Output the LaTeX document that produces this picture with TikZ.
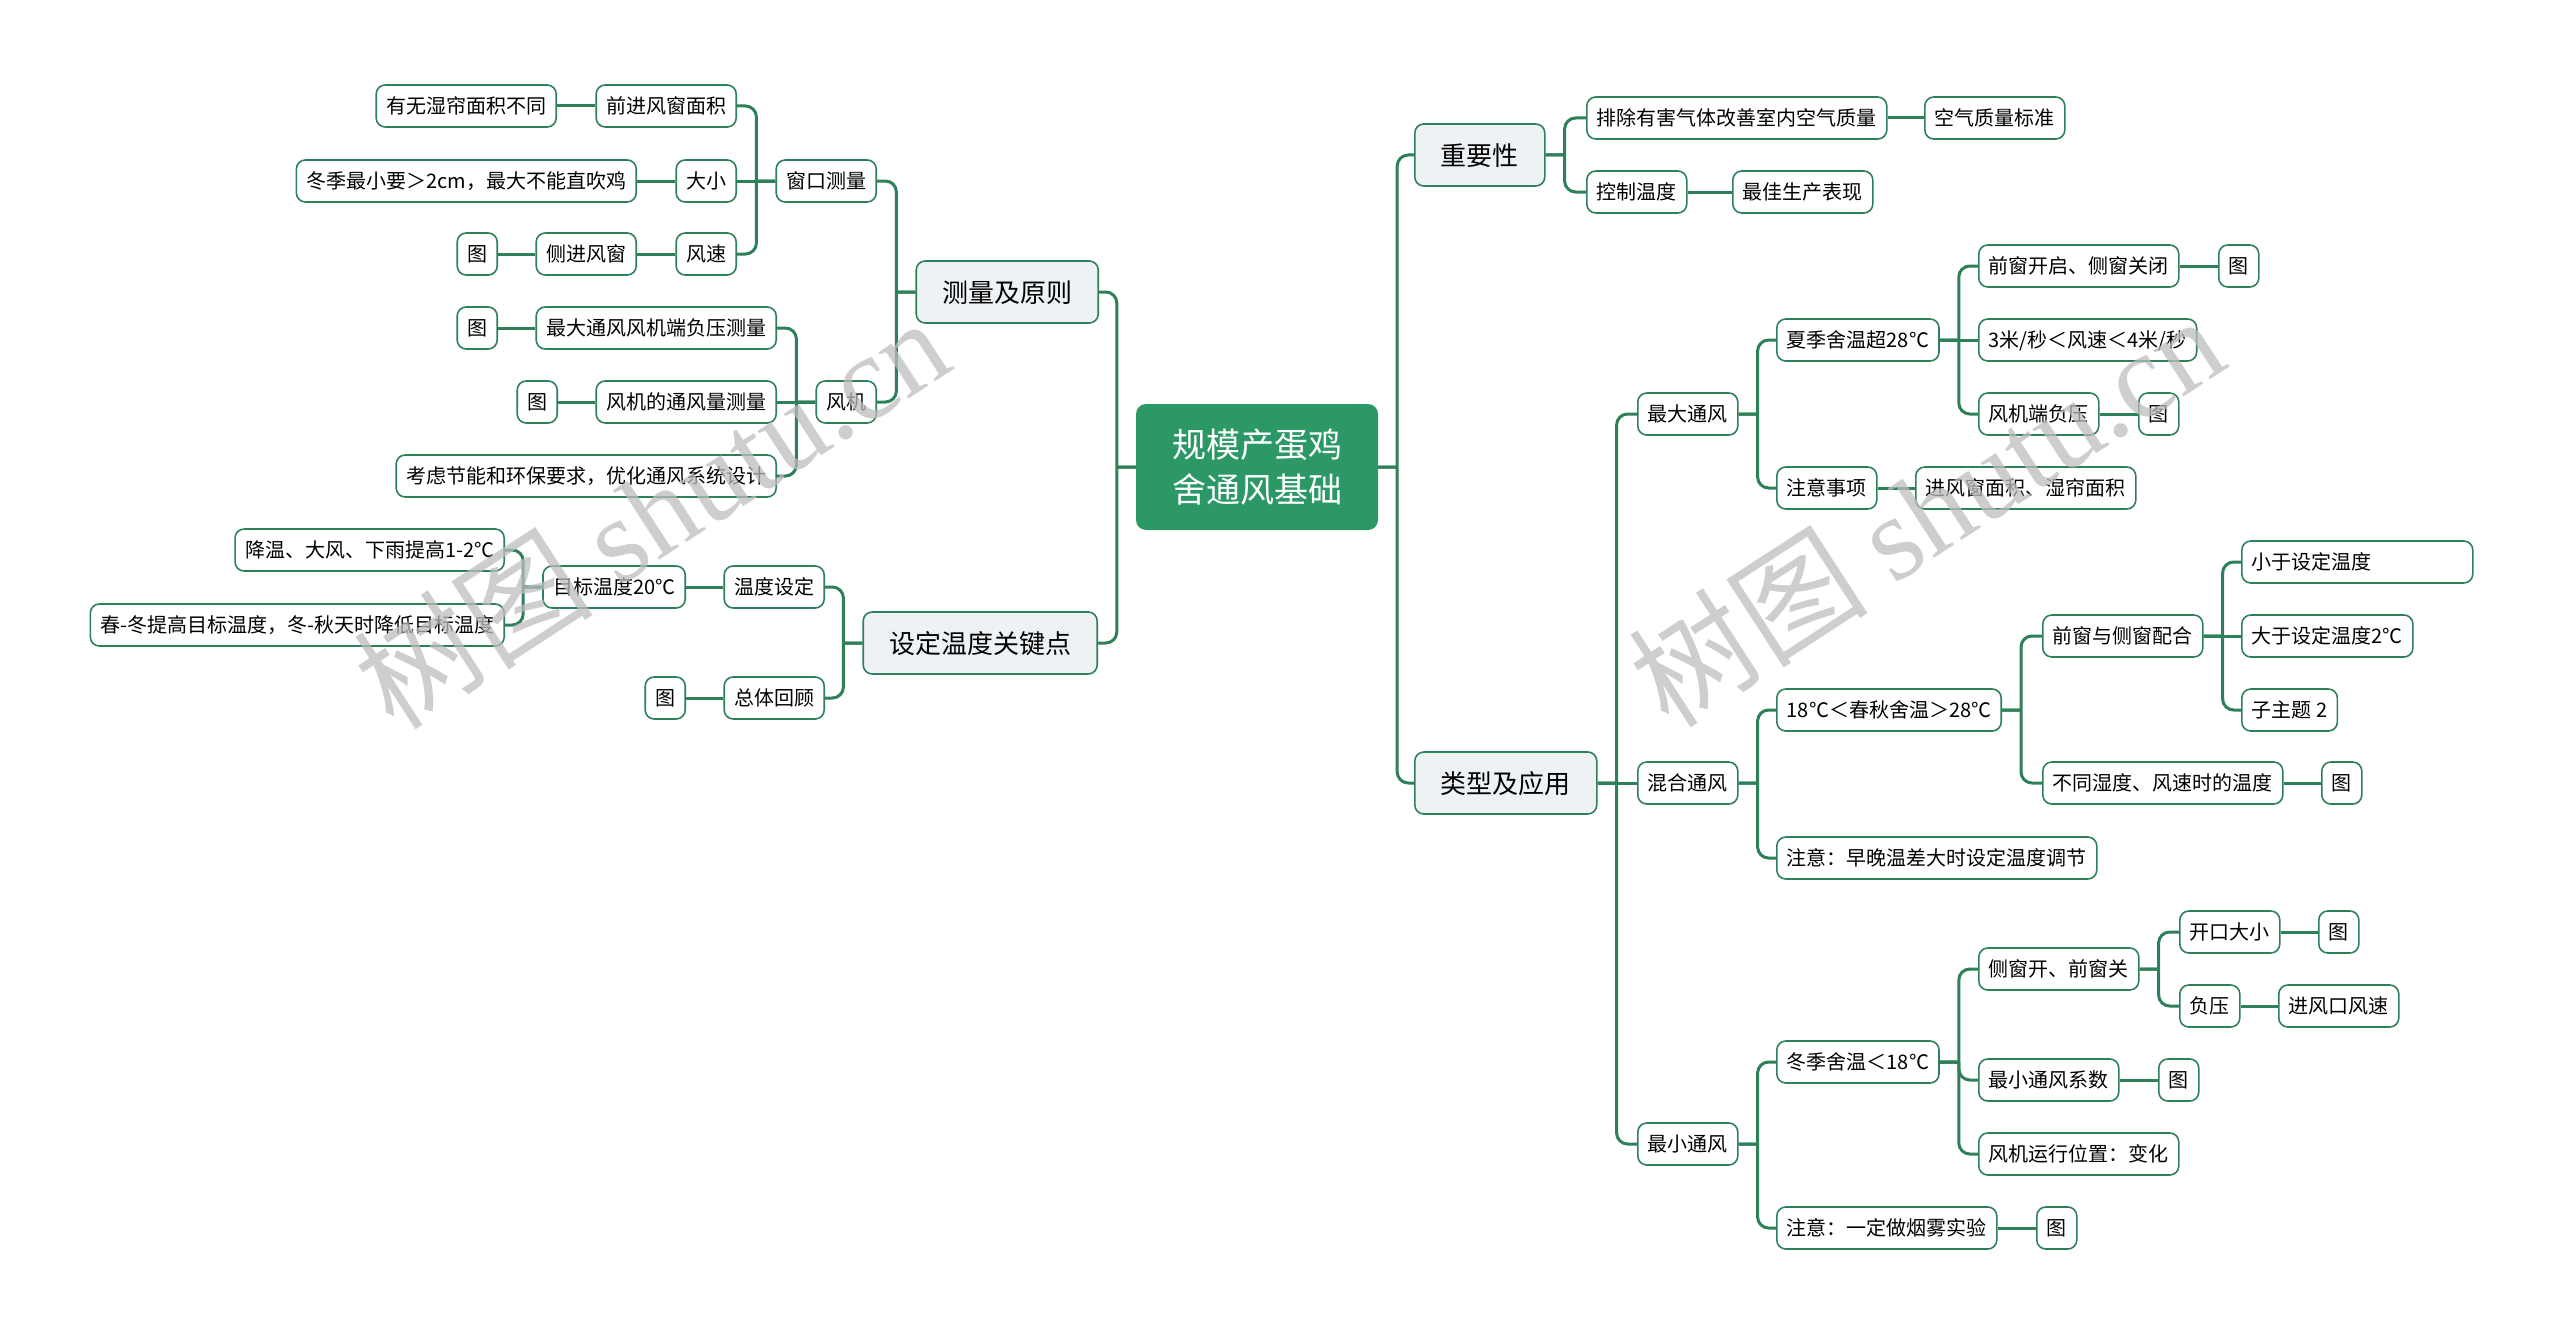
\documentclass[tikz,border=0pt]{standalone}
\usepackage{fontspec}
\setmainfont{Noto Sans CJK SC}
\newfontfamily\wmfont{Liberation Serif}
\usepackage{tikz}
\definecolor{lineg}{HTML}{2E8059}
\definecolor{rootg}{HTML}{2B9866}
\definecolor{mainfill}{HTML}{EEF2F5}
\definecolor{wmgray}{HTML}{BDBDBD}
\tikzset{
  sub/.style={draw=lineg, line width=1.6pt, fill=white, rounded corners=9pt, minimum height=42pt,
    inner xsep=10pt, inner ysep=0pt, text height=18pt, text depth=3pt, font=\fontsize{20}{24}\selectfont},
  topic/.style={sub, fill=mainfill, minimum height=62pt, inner xsep=26pt, text height=23pt, text depth=3pt,
    font=\fontsize{26}{30}\selectfont},
  central/.style={fill=rootg, text=white, rounded corners=10pt, minimum width=242pt, minimum height=126pt,
    align=center, font=\fontsize{34}{45}\selectfont},
  link/.style={draw=lineg, line width=3pt, rounded corners=11pt},
  wm/.style={text=wmgray, text opacity=0.75, font=\fontsize{120}{120}\selectfont}
}

\begin{document}
\begin{tikzpicture}[x=1pt, y=-1pt]
        \useasboundingbox (0,0) rectangle (2560,1335);
        \node[central] (root) at (1257,467) {规模产蛋鸡\\舍通风基础};

        % left half
        \node[topic, anchor=east] (meas) at (1099,292) {测量及原则};
        \node[topic, anchor=east] (keyt) at (1098,643) {设定温度关键点};
        \node[sub, anchor=east] (win) at (877,181) {窗口测量};
        \node[sub, anchor=east] (win-a) at (737,106) {前进风窗面积};
        \node[sub, anchor=east] (win-a1) at (557,106) {有无湿帘面积不同};
        \node[sub, anchor=east] (win-b) at (737,181) {大小};
        \node[sub, anchor=east] (win-b1) at (637,181) {冬季最小要＞2cm，最大不能直吹鸡};
        \node[sub, anchor=east] (win-c) at (737,254) {风速};
        \node[sub, anchor=east] (win-c1) at (637,254) {侧进风窗};
        \node[sub, anchor=east] (win-c2) at (498,254) {图};
        \node[sub, anchor=east] (fan) at (877,402) {风机};
        \node[sub, anchor=east] (fan-a) at (777,328) {最大通风风机端负压测量};
        \node[sub, anchor=east] (fan-a1) at (498,328) {图};
        \node[sub, anchor=east] (fan-b) at (777,402) {风机的通风量测量};
        \node[sub, anchor=east] (fan-b1) at (558,402) {图};
        \node[sub, anchor=east] (fan-c) at (777,476) {考虑节能和环保要求，优化通风系统设计};
        \node[sub, anchor=east] (set) at (825,587) {温度设定};
        \node[sub, anchor=east] (set-a) at (686,587) {目标温度20℃};
        \node[sub, anchor=east] (set-a1) at (505,550) {降温、大风、下雨提高1-2℃};
        \node[sub, anchor=east] (set-a2) at (505,625) {春-冬提高目标温度，冬-秋天时降低目标温度};
        \node[sub, anchor=east] (rev) at (825,698) {总体回顾};
        \node[sub, anchor=east] (rev-a) at (686,698) {图};

        % right half
        \node[topic, anchor=west] (imp) at (1414,155) {重要性};
        \node[topic, anchor=west] (kind) at (1414,783) {类型及应用};
        \node[sub, anchor=west] (imp-a) at (1586,118) {排除有害气体改善室内空气质量};
        \node[sub, anchor=west] (imp-a1) at (1924,118) {空气质量标准};
        \node[sub, anchor=west] (imp-b) at (1586,192) {控制温度};
        \node[sub, anchor=west] (imp-b1) at (1732,192) {最佳生产表现};
        \node[sub, anchor=west] (max) at (1637,414) {最大通风};
        \node[sub, anchor=west] (max-a) at (1776,340) {夏季舍温超28℃};
        \node[sub, anchor=west] (max-a1) at (1978,266) {前窗开启、侧窗关闭};
        \node[sub, anchor=west] (max-a1a) at (2218,266) {图};
        \node[sub, anchor=west] (max-a2) at (1978,340) {3米/秒＜风速＜4米/秒};
        \node[sub, anchor=west] (max-a3) at (1978,414) {风机端负压};
        \node[sub, anchor=west] (max-a3a) at (2138,414) {图};
        \node[sub, anchor=west] (max-b) at (1776,488) {注意事项};
        \node[sub, anchor=west] (max-b1) at (1915,488) {进风窗面积、湿帘面积};
        \node[sub, anchor=west] (mix) at (1637,783) {混合通风};
        \node[sub, anchor=west] (mix-a) at (1776,710) {18℃＜春秋舍温＞28℃};
        \node[sub, anchor=west] (mix-a1) at (2042,636) {前窗与侧窗配合};
        \node[sub, anchor=west, text width=211pt, align=left] (mix-a1a) at (2241,562) {小于设定温度};
        \node[sub, anchor=west] (mix-a1b) at (2241,636) {大于设定温度2℃};
        \node[sub, anchor=west] (mix-a1c) at (2241,710) {子主题 2};
        \node[sub, anchor=west] (mix-a2) at (2042,783) {不同湿度、风速时的温度};
        \node[sub, anchor=west] (mix-a2a) at (2321,783) {图};
        \node[sub, anchor=west] (mix-b) at (1776,858) {注意：早晚温差大时设定温度调节};
        \node[sub, anchor=west] (min) at (1637,1144) {最小通风};
        \node[sub, anchor=west] (min-a) at (1776,1062) {冬季舍温＜18℃};
        \node[sub, anchor=west] (min-a1) at (1978,969) {侧窗开、前窗关};
        \node[sub, anchor=west] (min-a1a) at (2179,932) {开口大小};
        \node[sub, anchor=west] (min-a1a1) at (2318,932) {图};
        \node[sub, anchor=west] (min-a1b) at (2179,1006) {负压};
        \node[sub, anchor=west] (min-a1b1) at (2278,1006) {进风口风速};
        \node[sub, anchor=west] (min-a2) at (1978,1080) {最小通风系数};
        \node[sub, anchor=west] (min-a2a) at (2158,1080) {图};
        \node[sub, anchor=west] (min-a3) at (1978,1154) {风机运行位置：变化};
        \node[sub, anchor=west] (min-b) at (1776,1228) {注意：一定做烟雾实验};
        \node[sub, anchor=west] (min-b1) at (2036,1228) {图};

        % forks: stub to the fork, then round into the child
        \foreach \p/\c in {root/meas, root/keyt, meas/win, meas/fan, win/win-a, win/win-c,
            fan/fan-a, fan/fan-c, keyt/set, keyt/rev, set-a/set-a1, set-a/set-a2}
            \draw[link] (\p.west) -- ++(-19,0) coordinate (\p-j) (\p-j) |- (\c.east);
        \foreach \p/\c in {root/imp, root/kind, imp/imp-a, imp/imp-b, kind/max, kind/min,
            max/max-a, max/max-b, max-a/max-a1, max-a/max-a3, mix/mix-a, mix/mix-b,
            mix-a/mix-a1, mix-a/mix-a2, mix-a1/mix-a1a, mix-a1/mix-a1c, min/min-a, min/min-b,
            min-a/min-a1, min-a/min-a2, min-a/min-a3, min-a1/min-a1a, min-a1/min-a1b}
            \draw[link] (\p.east) -- ++(19,0) coordinate (\p-j) (\p-j) |- (\c.west);
        % straight ones
        \foreach \p/\c in {win/win-b, win-a/win-a1, win-b/win-b1, win-c/win-c1, win-c1/win-c2,
            fan/fan-b, fan-a/fan-a1, fan-b/fan-b1, set/set-a, rev/rev-a}
            \draw[link] (\p.west) -- (\c.east);
        \foreach \p/\c in {imp-a/imp-a1, imp-b/imp-b1, kind/mix, max-a/max-a2, max-a1/max-a1a,
            max-a3/max-a3a, max-b/max-b1, mix-a1/mix-a1b, mix-a2/mix-a2a, min-a1a/min-a1a1,
            min-a1b/min-a1b1, min-a2/min-a2a, min-b/min-b1}
            \draw[link] (\p.east) -- (\c.west);

        % watermark
        \node[wm, rotate=33] (wm1) at (651,512) {树图 {\wmfont shutu.cn}};
        \node[wm, rotate=33] (wm2) at (1926,510) {树图 {\wmfont shutu.cn}};
\end{tikzpicture}
\end{document}
